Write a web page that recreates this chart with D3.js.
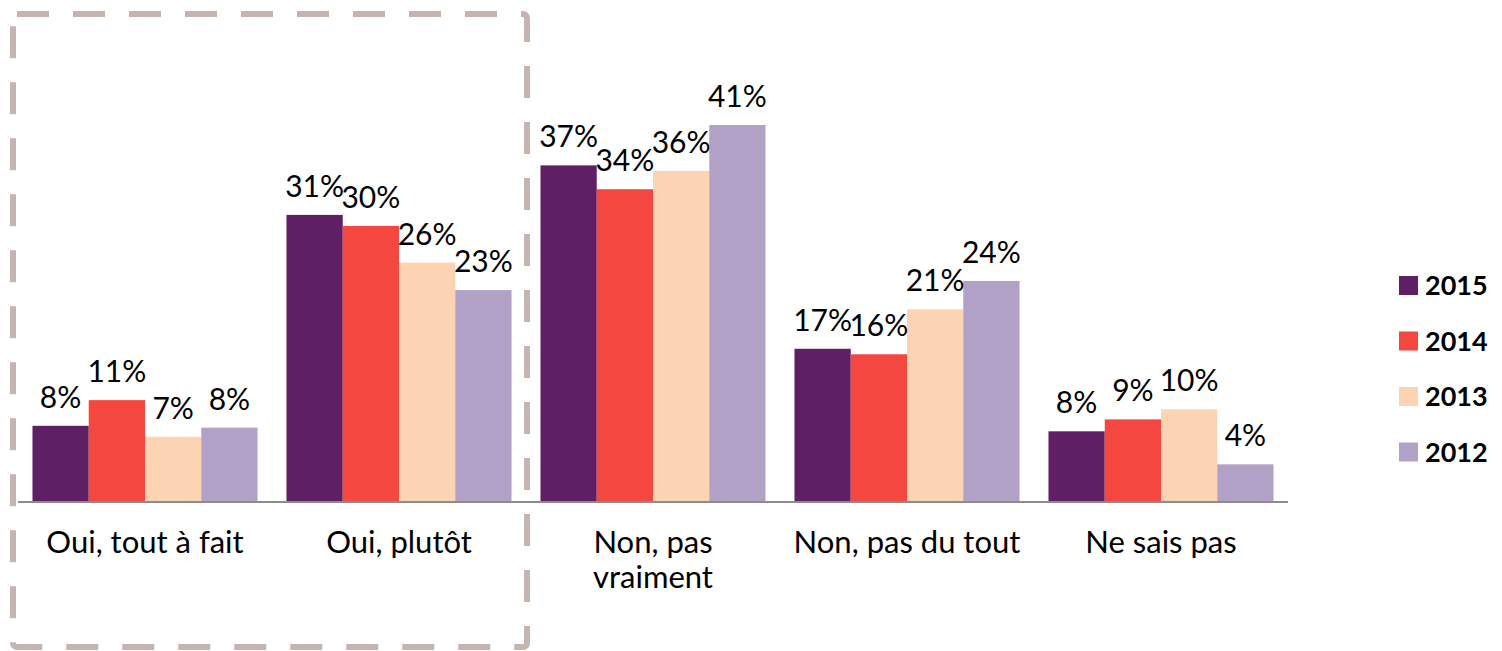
<!DOCTYPE html>
<html>
<head>
<meta charset="utf-8">
<script src="https://cdn.jsdelivr.net/npm/d3@7"></script>
<style>
  body { margin: 0; background: #fff; }
  svg { display: block; font-family: "Lato", "Open Sans", sans-serif; }
</style>
</head>
<body>
<div id="chart"></div>
<script>
// data
const categories = ["Oui, tout à fait", "Oui, plutôt", "Non, pas vraiment", "Non, pas du tout", "Ne sais pas"];
const years = ["2015", "2014", "2013", "2012"];
const values2015 = [8.2, 31.2, 36.6, 16.6, 7.6];
const values2014 = [11.0, 30.0, 34.0, 16.0, 8.9];
const values2013 = [7.0, 26.0, 36.0, 20.9, 10.0];
const values2012 = [8.0, 23.0, 41.0, 24.0, 4.0];
const colors = ["#5e1f64", "#f4473f", "#fcd3b3", "#b1a1c7"];

const series = [values2015, values2014, values2013, values2012];

const W = 1502, H = 651;
const baseline = 501;

const svg = d3.select("#chart")
  .append("svg")
  .attr("width", W)
  .attr("height", H);

// dashed box around the "oui" answers
svg.append("rect")
  .attr("x", 13)
  .attr("y", 14)
  .attr("width", 514)
  .attr("height", 633)
  .attr("rx", 4)
  .attr("fill", "none")
  .attr("stroke", "#c4b5b1")
  .attr("stroke-width", 6)
  .attr("stroke-dasharray", "32 24");

// scales
const x = d3.scaleBand()
  .domain(categories)
  .range([18, 1288])
  .paddingInner(0.114)
  .paddingOuter(0.057);

const xs = d3.scaleBand()
  .domain(years)
  .range([0, x.bandwidth()]);

const y = d3.scaleLinear()
  .domain([0, 45])
  .range([baseline, baseline - 45 * 9.17]);

// bars
const groups = svg.selectAll(".grp")
  .data(categories)
  .enter()
  .append("g")
  .attr("class", "grp")
  .attr("transform", d => `translate(${x(d)},0)`);

const cells = groups.selectAll(".bar")
  .data((c, i) => years.map((yr, s) => ({ year: yr, s: s, v: series[s][i] })))
  .enter();

cells.append("rect")
  .attr("class", "bar")
  .attr("x", d => xs(d.year))
  .attr("width", xs.bandwidth())
  .attr("y", d => y(d.v))
  .attr("height", d => baseline - y(d.v))
  .attr("fill", d => colors[d.s]);

cells.append("text")
  .attr("x", d => xs(d.year) + xs.bandwidth() / 2)
  .attr("y", d => y(d.v) - 18)
  .attr("text-anchor", "middle")
  .style("font-size", "30px")
  .style("fill", "#000")
  .text(d => Math.round(d.v) + "%");

// axis line
svg.append("line")
  .attr("x1", x.range()[0])
  .attr("x2", x.range()[1])
  .attr("y1", baseline + 1)
  .attr("y2", baseline + 1)
  .attr("stroke", "#8c8c8c")
  .attr("stroke-width", 2);

// category labels (wrapped like the original)
const wrapped = {
  "Non, pas vraiment": ["Non, pas", "vraiment"]
};

svg.selectAll(".cat")
  .data(categories)
  .enter()
  .append("text")
  .attr("class", "cat")
  .attr("x", d => x(d) + x.bandwidth() / 2)
  .attr("y", 553)
  .attr("text-anchor", "middle")
  .style("font-size", "31px")
  .style("fill", "#000")
  .each(function(d) {
    const lines = wrapped[d] || [d];
    d3.select(this).selectAll("tspan")
      .data(lines)
      .enter()
      .append("tspan")
      .attr("x", x(d) + x.bandwidth() / 2)
      .attr("dy", (l, i) => i === 0 ? 0 : 35)
      .text(l => l);
  });

// legend
const legend = svg.selectAll(".leg")
  .data(years)
  .enter()
  .append("g")
  .attr("class", "leg")
  .attr("transform", (d, i) => `translate(1399,${285 + i * 55.5})`);

legend.append("rect")
  .attr("x", 0)
  .attr("y", -9)
  .attr("width", 19)
  .attr("height", 19)
  .attr("fill", (d, i) => colors[i]);

legend.append("text")
  .attr("x", 26)
  .attr("y", 10)
  .style("font-size", "27px")
  .style("font-weight", "700")
  .style("fill", "#000")
  .text(d => d);
</script>
</body>
</html>
